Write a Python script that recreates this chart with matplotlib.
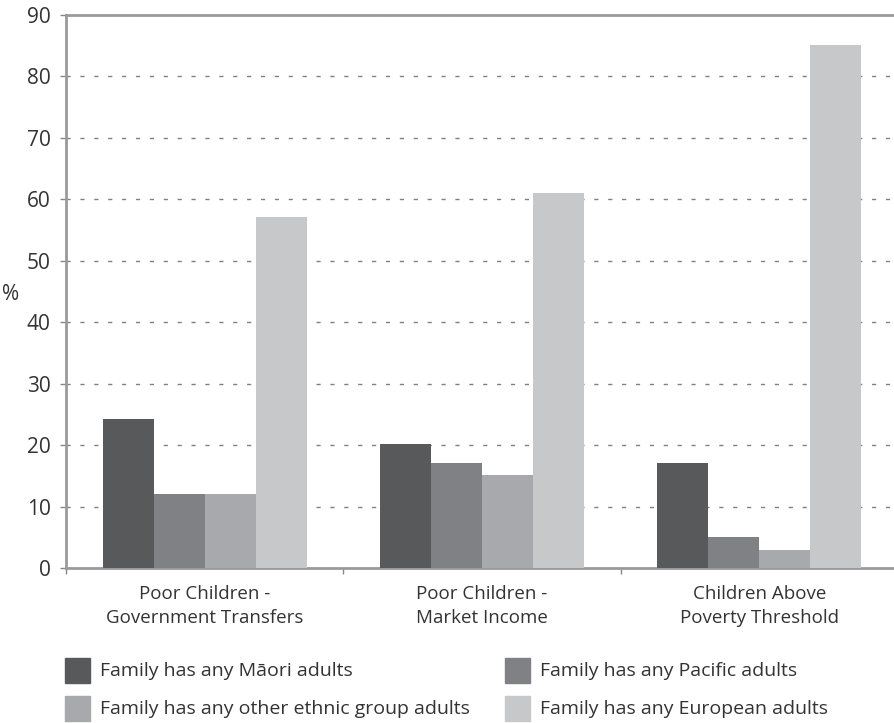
import numpy as np
import matplotlib
matplotlib.use("Agg")
import matplotlib.pyplot as plt
from matplotlib.patches import Rectangle

plt.rcParams['font.family'] = ['Open Sans', 'DejaVu Sans']

# data
groups = ["Poor Children -\nGovernment Transfers",
          "Poor Children -\nMarket Income",
          "Children Above\nPoverty Threshold"]
series = ["Family has any Māori adults",
          "Family has any Pacific adults",
          "Family has any other ethnic group adults",
          "Family has any European adults"]
maori = [24.2, 20.2, 17.1]
pacific = [12.0, 17.1, 5.0]
other = [12.0, 15.1, 2.9]
european = [57.1, 61.0, 85.1]
values = [maori, pacific, other, european]
colors = ["#58595b", "#808184", "#a7a9ac", "#c7c8ca"]
yticks = [0, 10, 20, 30, 40, 50, 60, 70, 80, 90]

W, H = 894, 723
fig = plt.figure(figsize=(W / 100, H / 100), dpi=100)
ax = fig.add_axes([66 / W, 1 - 568 / H, 832 / W, 553 / H])

bw = 0.184
x = np.arange(len(groups)) + 0.5
for k, vals in enumerate(values):
    ax.bar(x + (k - 1.5) * bw, vals, width=bw, color=colors[k], zorder=3, linewidth=0)

ax.set_xlim(0, 3)
ax.set_ylim(0, 90)
ax.set_yticks(yticks)
ax.set_xticks([0, 1, 2, 3])
ax.set_xticklabels([])
ax.set_xticks(x, minor=True)
ax.set_xticklabels(groups, minor=True, fontsize=13.5, color="#333333", linespacing=1.45)
ax.tick_params(axis="x", which="minor", length=0, pad=12)
ax.tick_params(axis="x", which="major", length=4, color="#888888", width=1)
ax.tick_params(axis="y", length=4, color="#888888", width=1, labelsize=15, labelcolor="#333333", pad=7)

ax.grid(axis="y", linestyle=(0, (3, 7)), color="#808080", linewidth=1, zorder=0)
ax.set_axisbelow(True)
for s in ["left", "bottom", "top"]:
    ax.spines[s].set_color("#9a9a9c")
    ax.spines[s].set_linewidth(2)
ax.spines["right"].set_visible(False)

ax.text(-0.2, 44.5, "%", transform=ax.transData, fontsize=15, color="#333333",
        ha="center", va="center")

# legend, two columns
for k, name in enumerate(series):
    row, col = k // 2, k % 2
    x0 = 65 + col * 440
    y0 = 658 + row * 38
    fig.add_artist(Rectangle((x0 / W, 1 - (y0 + 25) / H), 25 / W, 25 / H,
                             transform=fig.transFigure, color=colors[k]))
    fig.text((x0 + 35) / W, 1 - (y0 + 12.5) / H, name, fontsize=14,
             color="#333333", va="center", ha="left")

fig.savefig("out.png", dpi=100)
